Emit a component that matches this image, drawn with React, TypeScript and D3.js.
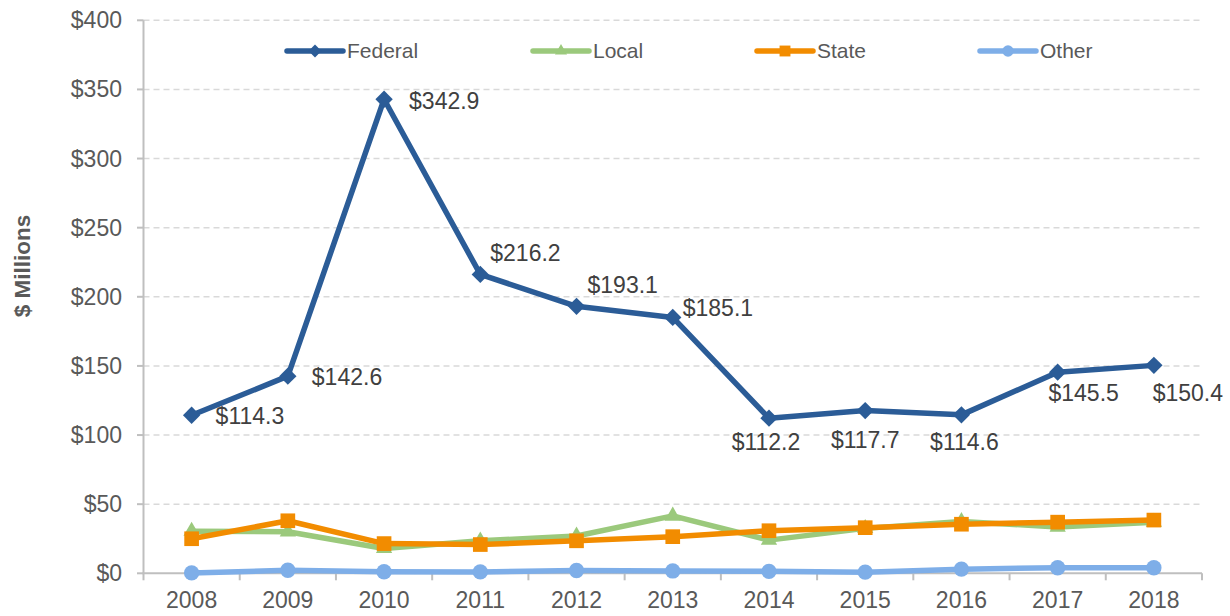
import React, { useEffect, useRef } from "react";
import * as d3 from "d3";

const years = ["2008", "2009", "2010", "2011", "2012", "2013", "2014", "2015", "2016", "2017", "2018"];
const federal = [114.3, 142.6, 342.9, 216.2, 193.1, 185.1, 112.2, 117.7, 114.6, 145.5, 150.4];
const local = [30.5, 30, 18, 23.5, 27, 41.5, 24, 32.5, 37.5, 33.5, 37];
const state = [25, 38, 21.5, 20.8, 23.5, 26.5, 30.8, 33, 35.5, 37, 38.5];
const other = [0.3, 2.2, 1.1, 1, 2, 1.7, 1.4, 0.8, 3, 4, 4];
const yTicks = [0, 50, 100, 150, 200, 250, 300, 350, 400];
const seriesNames = ["Federal", "Local", "State", "Other"];

// label placement for the Federal data labels: [dx, dy, anchor]
const labelPos: [number, number, string][] = [
  [24, 1, "start"],
  [24, 1, "start"],
  [25, 2, "start"],
  [10, -21, "start"],
  [11, -21, "start"],
  [10, -9, "start"],
  [-3, 24, "middle"],
  [0, 29, "middle"],
  [3, 27, "middle"],
  [26, 21, "middle"],
  [34, 28, "middle"],
];

const W = 1230;
const H = 616;

export default function App() {
  const ref = useRef<SVGSVGElement>(null);

  useEffect(() => {
    const svg = d3.select(ref.current);
    svg.selectAll("*").remove();

    const x = d3.scaleBand().domain(years).range([143.5, 1202]).padding(0);
    const y = d3.scaleLinear().domain([0, 400]).range([573.3, 20.3]);
    const cx = (i: number) => (x(years[i]) as number) + x.bandwidth() / 2;

    // gridlines
    svg.append("g")
      .selectAll("line")
      .data(yTicks.filter((d) => d > 0))
      .enter()
      .append("line")
      .attr("x1", 143.5)
      .attr("x2", 1202)
      .attr("y1", (d) => y(d))
      .attr("y2", (d) => y(d))
      .style("stroke", "#d9d9d9")
      .style("stroke-width", 1.5)
      .style("stroke-dasharray", "6,4");

    // y axis
    const axisColor = "#bfbfbf";
    svg.append("line")
      .attr("x1", 143.5).attr("x2", 143.5)
      .attr("y1", y(400)).attr("y2", y(0))
      .style("stroke", axisColor).style("stroke-width", 2);
    svg.append("g")
      .selectAll("line")
      .data(yTicks)
      .enter()
      .append("line")
      .attr("x1", 137).attr("x2", 143.5)
      .attr("y1", (d) => y(d)).attr("y2", (d) => y(d))
      .style("stroke", axisColor).style("stroke-width", 2);
    svg.append("g")
      .selectAll("text")
      .data(yTicks)
      .enter()
      .append("text")
      .attr("x", 122)
      .attr("y", (d) => y(d))
      .attr("dy", "0.35em")
      .attr("text-anchor", "end")
      .style("font-family", "'Liberation Sans', Arial, sans-serif")
      .style("font-size", "23px")
      .style("fill", "#595959")
      .text((d) => "$" + d);

    // x axis
    svg.append("line")
      .attr("x1", 142.5).attr("x2", 1202)
      .attr("y1", y(0)).attr("y2", y(0))
      .style("stroke", axisColor).style("stroke-width", 2);
    const bounds = years.map((yr) => x(yr) as number).concat([1202]);
    svg.append("g")
      .selectAll("line")
      .data(bounds)
      .enter()
      .append("line")
      .attr("x1", (d) => d).attr("x2", (d) => d)
      .attr("y1", y(0)).attr("y2", y(0) + 7)
      .style("stroke", axisColor).style("stroke-width", 2);
    svg.append("g")
      .selectAll("text")
      .data(years)
      .enter()
      .append("text")
      .attr("x", (_, i) => cx(i))
      .attr("y", 600)
      .attr("dy", "0.35em")
      .attr("text-anchor", "middle")
      .style("font-family", "'Liberation Sans', Arial, sans-serif")
      .style("font-size", "23px")
      .style("fill", "#595959")
      .text((d) => d);

    // axis title
    svg.append("text")
      .attr("transform", "translate(22,266) rotate(-90)")
      .attr("dy", "0.35em")
      .attr("text-anchor", "middle")
      .style("font-family", "'Liberation Sans', Arial, sans-serif")
      .style("font-size", "22.5px")
      .style("font-weight", "bold")
      .style("fill", "#595959")
      .text("$ Millions");

    const series = [
      { name: seriesNames[0], values: federal, color: "#2b5c97", symbol: d3.symbolSquare, size: 150, rotate: 45 },
      { name: seriesNames[1], values: local, color: "#9bc97c", symbol: d3.symbolTriangle, size: 115, rotate: 0 },
      { name: seriesNames[2], values: state, color: "#f28c00", symbol: d3.symbolSquare, size: 215, rotate: 0 },
      { name: seriesNames[3], values: other, color: "#7eaee8", symbol: d3.symbolCircle, size: 185, rotate: 0 },
    ];

    const line = d3.line<number>()
      .x((_, i) => cx(i))
      .y((d) => y(d));

    series.forEach((s) => {
      const g = svg.append("g");
      g.append("path")
        .datum(s.values)
        .attr("d", line)
        .style("fill", "none")
        .style("stroke", s.color)
        .style("stroke-width", 5.5)
        .style("stroke-linejoin", "round");
      g.selectAll("path.m")
        .data(s.values)
        .enter()
        .append("path")
        .attr("class", "m")
        .attr("d", d3.symbol().type(s.symbol).size(s.size)())
        .attr("transform", (d, i) => `translate(${cx(i)},${y(d)}) rotate(${s.rotate})`)
        .style("fill", s.color);
    });

    // data labels
    svg.append("g")
      .selectAll("text")
      .data(federal)
      .enter()
      .append("text")
      .attr("x", (_, i) => cx(i) + labelPos[i][0])
      .attr("y", (d, i) => y(d) + labelPos[i][1])
      .attr("dy", "0.35em")
      .attr("text-anchor", (_, i) => labelPos[i][2])
      .style("font-family", "'Liberation Sans', Arial, sans-serif")
      .style("font-size", "23px")
      .style("fill", "#404040")
      .text((d) => "$" + d.toFixed(1));

    // legend
    const legendX = [287, 533, 757, 980];
    const lg = svg.append("g");
    series.forEach((s, i) => {
      const lx = legendX[i];
      const ly = 51;
      lg.append("line")
        .attr("x1", lx).attr("x2", lx + 56)
        .attr("y1", ly).attr("y2", ly)
        .style("stroke", s.color)
        .style("stroke-width", 5.5)
        .style("stroke-linecap", "round");
      lg.append("path")
        .attr("d", d3.symbol().type(s.symbol).size(s.size * 0.55)())
        .attr("transform", `translate(${lx + 28},${ly}) rotate(${s.rotate})`)
        .style("fill", s.color);
      lg.append("text")
        .attr("x", lx + 60)
        .attr("y", ly)
        .attr("dy", "0.35em")
        .style("font-family", "'Liberation Sans', Arial, sans-serif")
        .style("font-size", "21px")
        .style("fill", "#595959")
        .text(s.name);
    });
  }, []);

  return (
    <svg
      ref={ref}
      width={W}
      height={H}
      style={{ position: "absolute", left: 0, top: 0, background: "#fff" }}
    />
  );
}
